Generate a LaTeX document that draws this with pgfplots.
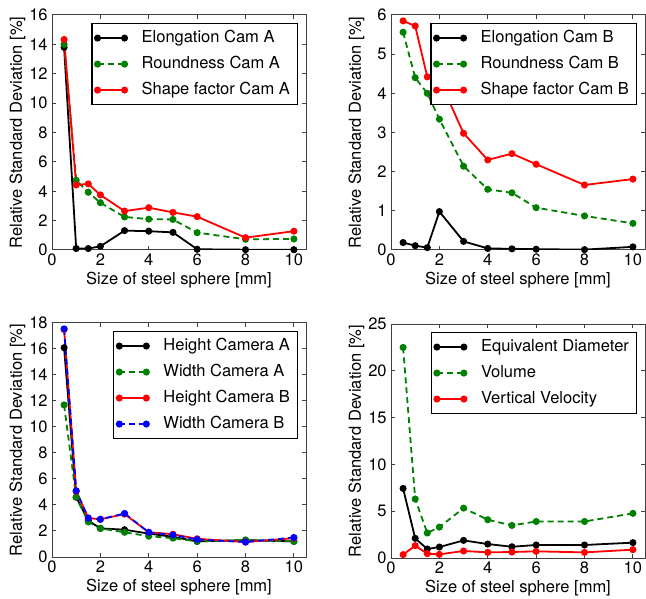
\documentclass[border=0pt]{standalone}
\usepackage{pgfplots}
\pgfplotsset{compat=1.18}
\usepackage{pgfplotstable}
\usepackage{fontspec}
\setmainfont{TeX Gyre Heros}
\newcommand{\fs}{\fontsize{8.25bp}{10bp}\selectfont}
\definecolor{mplgreen}{rgb}{0,0.5,0}
\definecolor{mplred}{rgb}{1,0,0}
\definecolor{mplblue}{rgb}{0,0,1}

\pgfplotstableread{
x    EA    RA    SA
0.5  13.8  14.0  14.33
1    0.10  4.75  4.43
1.5  0.10  3.93  4.50
2    0.25  3.22  3.75
3    1.32  2.25  2.65
4    1.28  2.10  2.88
5    1.20  2.08  2.56
6    0.05  1.18  2.27
8    0.02  0.73  0.84
10   0.02  0.75  1.28
}\tabA

\pgfplotstableread{
x    EB    RB    SB
0.5  0.19  5.56  5.85
1    0.11  4.40  5.72
1.5  0.06  4.00  4.42
2    0.98  3.34  4.35
3    0.22  2.14  2.98
4    0.04  1.55  2.30
5    0.03  1.46  2.46
6    0.02  1.08  2.19
8    0.01  0.87  1.66
10   0.08  0.68  1.81
}\tabB

\pgfplotstableread{
x    HA    WA    HB    WB
0.5  16.1  11.7  17.5  17.55
1    4.60  4.60  5.05  5.10
1.5  2.80  2.70  3.00  3.00
2    2.20  2.20  2.90  2.90
3    2.10  1.90  3.30  3.35
4    1.80  1.60  1.90  1.90
5    1.55  1.45  1.75  1.70
6    1.20  1.20  1.40  1.35
8    1.30  1.30  1.15  1.15
10   1.20  1.20  1.45  1.50
}\tabC

\pgfplotstableread{
x    ED    VO    VV
0.5  7.43  22.5  0.36
1    2.10  6.30  1.32
1.5  0.96  2.67  0.46
2    1.17  3.30  0.39
3    1.88  5.33  0.75
4    1.49  4.09  0.60
5    1.20  3.48  0.64
6    1.39  3.90  0.71
8    1.39  3.90  0.60
10   1.64  4.77  0.89
}\tabD

\pgfplotsset{
  panel/.style={
    width=127bp, height=117.5bp, scale only axis,
    xmin=0, xmax=10.5, xtick={0,2,...,10}, ymin=0,
    tick align=inside, tick pos=both, major tick length=2bp,
    axis line style={black!75, line width=0.5bp},
    every tick/.style={black!75, line width=0.5bp},
    tick label style={font=\fs},
    xticklabel style={inner ysep=1.6bp},
    yticklabel style={inner xsep=2bp},
    /pgf/number format/assume math mode=true,
    xlabel={Size of steel sphere [mm]},
    ylabel={Relative Standard Deviation [\%]},
    every axis x label/.style={at={(axis description cs:0.5,-0.1277)}, anchor=center, font=\fs},
    every axis y label/.style={at={(axis description cs:-0.136,0.5)}, rotate=90, anchor=center, font=\fs},
    legend style={at={(rel axis cs:0.9685,0.966)}, anchor=north east, draw=black, fill=white, line width=0.6bp,
      font=\fs, inner xsep=1.5bp, inner ysep=0.75bp, cells={anchor=west}, column sep=5bp,
      nodes={inner xsep=2.25bp, inner ysep=2.25bp, text height=6.5bp, text depth=2bp}},
    legend cell align=left,
    legend image code/.code={\draw[##1] plot coordinates {(0bp,0bp) (13.5bp,0bp)};},
  },
  sblack/.style={black, line width=0.9bp, mark=*, mark size=1.3bp, mark options={solid, fill=black, draw=black}},
  sred/.style={mplred, line width=0.9bp, mark=*, mark size=1.3bp, mark options={solid, fill=mplred, draw=mplred}},
  sgreen/.style={mplgreen, line width=0.9bp, dash pattern=on 3bp off 2bp, mark=*, mark size=1.3bp, mark options={solid, fill=mplgreen, draw=mplgreen}},
  sblue/.style={mplblue, line width=0.9bp, dash pattern=on 3bp off 2bp, mark=*, mark size=1.3bp, mark options={solid, fill=mplblue, draw=mplblue}},
}

\begin{document}
\begin{tikzpicture}
\useasboundingbox (0,0) rectangle (323bp,299.5bp);

\begin{axis}[panel, at={(26bp,174.5bp)}, anchor=south west, ymax=16, ytick={0,2,...,16}]
\addplot[sblack] table[x=x,y=EA]{\tabA};
\addlegendentry{Elongation Cam A}
\addplot[sgreen] table[x=x,y=RA]{\tabA};
\addlegendentry{Roundness Cam A}
\addplot[sred] table[x=x,y=SA]{\tabA};
\addlegendentry{Shape factor Cam A}
\end{axis}

\begin{axis}[panel, at={(195.5bp,174.5bp)}, anchor=south west, ymax=6, ytick={0,1,...,6}]
\addplot[sblack] table[x=x,y=EB]{\tabB};
\addlegendentry{Elongation Cam B}
\addplot[sgreen] table[x=x,y=RB]{\tabB};
\addlegendentry{Roundness Cam B}
\addplot[sred] table[x=x,y=SB]{\tabB};
\addlegendentry{Shape factor Cam B}
\end{axis}

\begin{axis}[panel, at={(26bp,21bp)}, anchor=south west, height=117bp, ymax=18, ytick={0,2,...,18}]
\addplot[sblack] table[x=x,y=HA]{\tabC};
\addlegendentry{Height Camera A}
\addplot[sgreen] table[x=x,y=WA]{\tabC};
\addlegendentry{Width Camera A}
\addplot[sred] table[x=x,y=HB]{\tabC};
\addlegendentry{Height Camera B}
\addplot[sblue] table[x=x,y=WB]{\tabC};
\addlegendentry{Width Camera B}
\end{axis}

\begin{axis}[panel, at={(195.5bp,20.5bp)}, anchor=south west, height=117bp, ymax=25, ytick={0,5,...,25}]
\addplot[sblack] table[x=x,y=ED]{\tabD};
\addlegendentry{Equivalent Diameter}
\addplot[sgreen] table[x=x,y=VO]{\tabD};
\addlegendentry{Volume}
\addplot[sred] table[x=x,y=VV]{\tabD};
\addlegendentry{Vertical Velocity}
\end{axis}
\end{tikzpicture}
\end{document}
